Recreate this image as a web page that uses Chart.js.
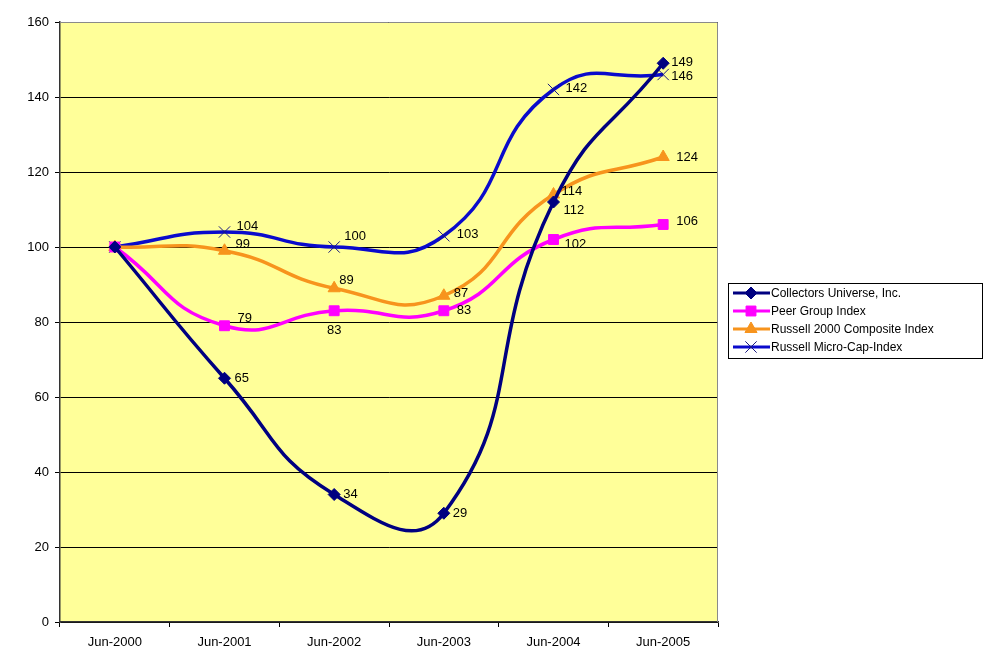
<!DOCTYPE html>
<html>
<head>
<meta charset="utf-8">
<script src="https://cdn.jsdelivr.net/npm/chart.js@4/dist/chart.umd.min.js"></script>
<style>
  html, body { margin: 0; padding: 0; background: #fff; }
  #wrap { width: 1008px; height: 663px; position: relative; }
</style>
</head>
<body>
<div id="wrap"><canvas id="perfChart" width="1008" height="663"></canvas></div>
<script>
// chart data
const categories = ['Jun-2000', 'Jun-2001', 'Jun-2002', 'Jun-2003', 'Jun-2004', 'Jun-2005'];
const collectors = [100, 65, 34, 29, 112, 149];
const peerGroup = [100, 79, 83, 83, 102, 106];
const russell2000 = [100, 99, 89, 87, 114, 124];
const microCap = [100, 104, 100, 103, 142, 146];
const yTicks = [0, 20, 40, 60, 80, 100, 120, 140, 160];

// label nudges (dx, dy) relative to each point, first point has no label
const labelNudge = [
  [null, [10, 0], [9, 0], [9, 0], [10, 8], [8, -1]],
  [null, [13, -7], [-5, 20], [13, 0], [11, 5], [13, -3]],
  [null, [11, -6], [5, -8], [10, -2], [8, -3], [13, 0]],
  [null, [12, -6], [10, -11], [13, -1], [12, -1], [8, 2]]
];

const FONT = 'Arial, "Liberation Sans", sans-serif';

const valueLabels = {
  id: 'valueLabels',
  afterDatasetsDraw(chart) {
    const ctx = chart.ctx;
    ctx.save();
    ctx.font = '13px ' + FONT;
    ctx.fillStyle = '#000';
    ctx.textBaseline = 'middle';
    chart.data.datasets.forEach((ds, di) => {
      const meta = chart.getDatasetMeta(di);
      meta.data.forEach((pt, i) => {
        const nudge = labelNudge[di][i];
        if (!nudge) return;
        ctx.textAlign = nudge[0] < 0 ? 'center' : 'left';
        const dx = nudge[0] < 0 ? 0 : nudge[0];
        ctx.fillText(String(ds.data[i]), pt.x + dx, pt.y + nudge[1]);
      });
    });
    ctx.restore();
  }
};

const plotFrame = {
  id: 'plotFrame',
  beforeDraw(chart) {
    const { ctx, chartArea: a } = chart;
    ctx.save();
    ctx.fillStyle = '#FFFF99';
    ctx.fillRect(a.left, a.top, a.right - a.left, a.bottom - a.top);
    ctx.restore();
  },
  afterDraw(chart) {
    const { ctx, chartArea: a } = chart;
    ctx.save();
    ctx.strokeStyle = '#8a8a8a';
    ctx.lineWidth = 1;
    ctx.beginPath();
    ctx.moveTo(a.left, a.top + 0.5);
    ctx.lineTo(a.right - 0.5, a.top + 0.5);
    ctx.lineTo(a.right - 0.5, a.bottom);
    ctx.stroke();

    // legend box
    const x = 728, y = 283, w = 254, h = 75;
    ctx.fillStyle = '#fff';
    ctx.fillRect(x, y, w, h);
    ctx.strokeStyle = '#000';
    ctx.lineWidth = 1;
    ctx.strokeRect(x + 0.5, y + 0.5, w, h);
    ctx.font = '12px ' + FONT;
    ctx.textBaseline = 'middle';
    ctx.textAlign = 'left';
    chart.data.datasets.forEach((ds, i) => {
      const cy = y + 10 + i * 18;
      ctx.strokeStyle = ds.borderColor;
      ctx.lineWidth = 3;
      ctx.beginPath();
      ctx.moveTo(x + 5, cy);
      ctx.lineTo(x + 42, cy);
      ctx.stroke();
      ctx.fillStyle = ds.pointBackgroundColor;
      ctx.strokeStyle = ds.pointBorderColor;
      ctx.lineWidth = ds.pointBorderWidth;
      Chart.helpers.drawPoint(ctx, {
        pointStyle: ds.pointStyle,
        radius: ds.pointRadius,
        borderWidth: ds.pointBorderWidth,
        rotation: 0
      }, x + 23, cy);
      ctx.fillStyle = '#000';
      ctx.fillText(ds.label, x + 43, cy + 1);
    });
    ctx.restore();
  }
};

const ctx = document.getElementById('perfChart').getContext('2d');
const chart = new Chart(ctx, {
  type: 'line',
  data: {
    labels: categories,
    datasets: [{
      label: 'Collectors Universe, Inc.',
      data: collectors,
      borderColor: '#000080',
      backgroundColor: '#000080',
      pointBackgroundColor: '#000080',
      pointBorderColor: '#000080',
      pointStyle: 'rectRot',
      pointRadius: 6,
      pointBorderWidth: 1
    }, {
      label: 'Peer Group Index',
      data: peerGroup,
      borderColor: '#FF00FF',
      backgroundColor: '#FF00FF',
      pointBackgroundColor: '#FF00FF',
      pointBorderColor: '#FF00FF',
      pointStyle: 'rect',
      pointRadius: 7,
      pointBorderWidth: 1
    }, {
      label: 'Russell 2000 Composite Index',
      data: russell2000,
      borderColor: '#F7941D',
      backgroundColor: '#F7941D',
      pointBackgroundColor: '#F7941D',
      pointBorderColor: '#F7941D',
      pointStyle: 'triangle',
      pointRadius: 7,
      pointBorderWidth: 1
    }, {
      label: 'Russell Micro-Cap-Index',
      data: microCap,
      borderColor: '#0A0ACC',
      backgroundColor: '#0A0ACC',
      pointBackgroundColor: '#0A0ACC',
      pointBorderColor: '#1a1a80',
      pointStyle: 'crossRot',
      pointRadius: 8,
      pointBorderWidth: 1
    }]
  },
  options: {
    responsive: false,
    animation: false,
    devicePixelRatio: 1,
    layout: { padding: { top: 22, right: 290, left: 0, bottom: 0 } },
    elements: {
      line: { borderWidth: 3.5, tension: 0.5, fill: false }
    },
    plugins: {
      legend: { display: false },
      tooltip: { enabled: false }
    },
    scales: {
      x: {
        offset: true,
        afterFit(scale) { scale.height = 41; },
        grid: {
          offset: true,
          drawOnChartArea: false,
          drawTicks: true,
          tickLength: 5,
          color: '#000'
        },
        border: { color: '#333', width: 1.5 },
        ticks: {
          color: '#000',
          font: { family: FONT, size: 13 },
          padding: 8,
          maxRotation: 0
        }
      },
      y: {
        min: 0,
        max: 160,
        afterFit(scale) { scale.width = 60; },
        afterBuildTicks(scale) { scale.ticks = yTicks.map(v => ({ value: v })); },
        grid: {
          color: '#000',
          lineWidth: 1,
          tickLength: 5
        },
        border: { color: '#333', width: 1.5 },
        ticks: {
          color: '#000',
          font: { family: FONT, size: 13 },
          padding: 6
        }
      }
    }
  },
  plugins: [plotFrame, valueLabels]
});
</script>
</body>
</html>
